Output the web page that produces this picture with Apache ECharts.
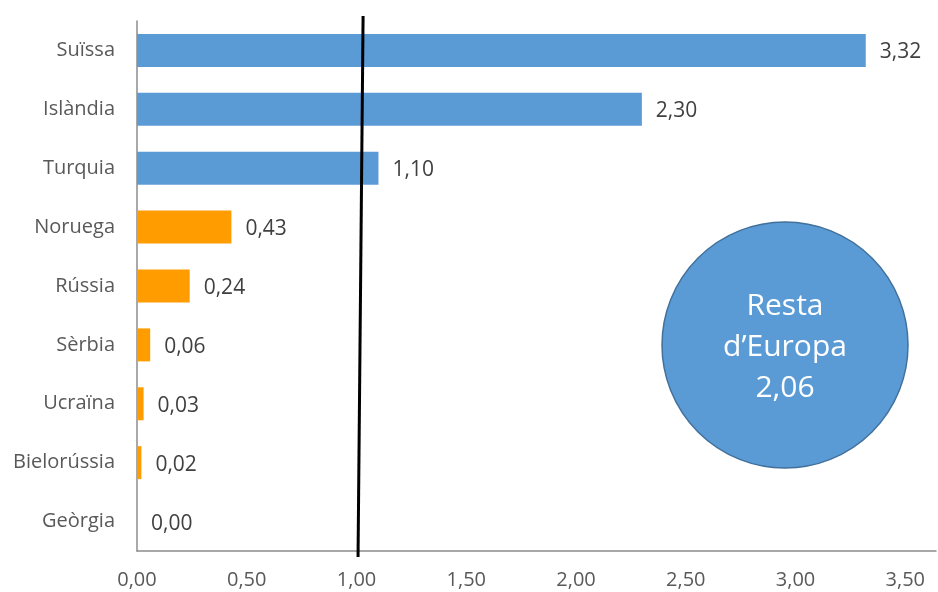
<!DOCTYPE html>
<html>
<head>
<meta charset="utf-8">
<script src="https://cdn.jsdelivr.net/npm/echarts@6/dist/echarts.min.js"></script>
<style>
  html, body { margin: 0; padding: 0; background: #fff; }
  #chart { width: 938px; height: 592px; }
</style>
</head>
<body>
<div id="chart"></div>
<script>
// Countries, top to bottom
const countries = ['Suïssa', 'Islàndia', 'Turquia', 'Noruega', 'Rússia', 'Sèrbia', 'Ucraïna', 'Bielorússia', 'Geòrgia'];
const values = [3.32, 2.30, 1.10, 0.43, 0.24, 0.06, 0.03, 0.02, 0.00];
// Countries above the reference line are drawn in blue, the rest in orange
const aboveRef = [true, true, true, false, false, false, false, false, false];
const xTicks = [0, 0.5, 1, 1.5, 2, 2.5, 3, 3.5];
// Reference line near 1,00 (slightly tilted: bottom, top)
const refLine = [[1.007, 0], [1.03, 1]];
// Rest of Europe total
const restLabel = ['Resta', 'd\u2019Europa'];
const restValue = 2.06;

const BLUE = '#5B9BD5';
const ORANGE = '#FF9C00';
const FONT = '"Open Sans", sans-serif';
const fmt = v => v.toFixed(2).replace('.', ',');
// the axis line runs a little past the last tick
const X_END = 3.64;

const chart = echarts.init(document.getElementById('chart'));

const gridLeft = 137, gridRight = 2;

chart.setOption({
  animation: false,
  grid: [
    { left: gridLeft, right: gridRight, top: 21, bottom: 41, containLabel: false },
    { left: gridLeft, right: gridRight, top: 16, bottom: 35, containLabel: false }
  ],
  xAxis: [
    {
      gridIndex: 0,
      type: 'value',
      min: xTicks[0],
      max: X_END,
      interval: 0.5,
      axisLine: { show: true, lineStyle: { color: '#8c8c8c', width: 1.5 } },
      axisTick: { show: false },
      splitLine: { show: false },
      axisLabel: {
        color: '#595959',
        fontFamily: FONT,
        fontSize: 20,
        margin: 19,
        showMaxLabel: false,
        formatter: v => (xTicks.some(t => Math.abs(t - v) < 1e-9) ? fmt(v) : '')
      }
    },
    {
      gridIndex: 1, type: 'value', min: 0, max: X_END, show: false
    }
  ],
  yAxis: [
    {
      gridIndex: 0,
      type: 'category',
      inverse: true,
      data: countries,
      axisLine: { show: true, lineStyle: { color: '#8c8c8c', width: 1.5 } },
      axisTick: { show: false },
      axisLabel: {
        color: '#595959',
        fontFamily: FONT,
        fontSize: 20,
        margin: 22
      }
    },
    {
      gridIndex: 1, type: 'value', min: 0, max: 1, show: false
    }
  ],
  series: [
    {
      type: 'bar',
      xAxisIndex: 0,
      yAxisIndex: 0,
      barWidth: '56%',
      data: values.map((v, i) => ({
        value: v,
        itemStyle: { color: aboveRef[i] ? BLUE : ORANGE }
      })),
      label: {
        show: true,
        position: 'right',
        distance: 14,
        offset: [0, 2],
        color: '#404040',
        fontFamily: FONT,
        fontSize: 21,
        formatter: p => fmt(p.value)
      }
    },
    {
      type: 'line',
      xAxisIndex: 1,
      yAxisIndex: 1,
      data: refLine,
      symbol: 'none',
      lineStyle: { color: '#000', width: 3 },
      z: 5
    }
  ],
  graphic: [
    {
      type: 'circle',
      shape: { cx: 785, cy: 345, r: 123 },
      style: { fill: BLUE, stroke: '#41719C', lineWidth: 1.5 },
      z: 10
    },
    {
      type: 'text',
      x: 785,
      y: 347,
      z: 11,
      style: {
        text: restLabel.concat([fmt(restValue)]).join('\n'),
        fill: '#fff',
        font: '30px ' + FONT,
        lineHeight: 41,
        align: 'center',
        verticalAlign: 'middle'
      }
    }
  ]
});
</script>
</body>
</html>
